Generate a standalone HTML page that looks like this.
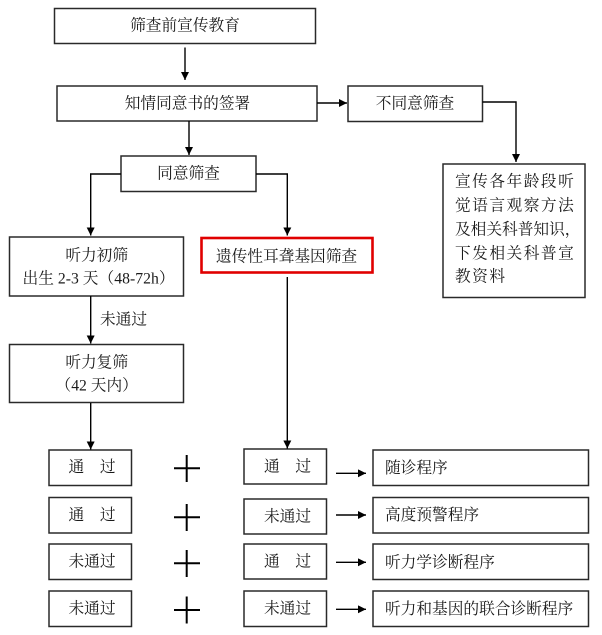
<!DOCTYPE html>
<html><head><meta charset="utf-8">
<style>
html,body{margin:0;padding:0;background:#fff;}
svg{display:block;}
text{font-family:"Liberation Serif","Noto Serif CJK SC",serif;font-size:15.7px;fill:#1a1a1a;dominant-baseline:central;}
</style></head>
<body>
<svg width="602" height="635" viewBox="0 0 602 635" xmlns="http://www.w3.org/2000/svg">
<defs>
<marker id="a" viewBox="0 0 10 10" refX="10" refY="5" markerWidth="9" markerHeight="8" markerUnits="userSpaceOnUse" orient="auto">
<path d="M0,0 L10,5 L0,10 z" fill="#000"/>
</marker>
</defs>
<g fill="none" stroke="#2a2a2a" stroke-width="1.5">
<rect x="54.5" y="8.5" width="261" height="35"/>
<rect x="57" y="86" width="260" height="35"/>
<rect x="348" y="86" width="134.5" height="35.5"/>
<rect x="121" y="156" width="135" height="35.5"/>
<rect x="443" y="164" width="142" height="133.5"/>
<rect x="9.5" y="237" width="174" height="59"/>
<rect x="9.5" y="344.5" width="174" height="58"/>
<rect x="49" y="450" width="82.5" height="35.5"/>
<rect x="49" y="497.5" width="82.5" height="35.5"/>
<rect x="49" y="544" width="82.5" height="35.5"/>
<rect x="49" y="591" width="82.5" height="35.5"/>
<rect x="244" y="449" width="82.5" height="35"/>
<rect x="244" y="499" width="82.5" height="35"/>
<rect x="244" y="544" width="82.5" height="35"/>
<rect x="244" y="591" width="82.5" height="35.5"/>
<rect x="373" y="450" width="215.5" height="35.5"/>
<rect x="373" y="497.5" width="215.5" height="35.5"/>
<rect x="373" y="544" width="215.5" height="35.5"/>
<rect x="373" y="591" width="215.5" height="35.5"/>
</g>
<rect x="201.5" y="238" width="171" height="34.5" fill="none" stroke="#e00000" stroke-width="2.6"/>

<g fill="none" stroke="#000" stroke-width="1.4">
<line x1="185" y1="47.5" x2="185" y2="80" marker-end="url(#a)"/>
<line x1="189" y1="121" x2="189" y2="155" marker-end="url(#a)"/>
<line x1="317" y1="103" x2="347" y2="103" marker-end="url(#a)"/>
<polyline points="482.5,102 516,102 516,162" marker-end="url(#a)"/>
<polyline points="121,174 90.7,174 90.7,235.5" marker-end="url(#a)"/>
<polyline points="256,174 287.3,174 287.3,235.5" marker-end="url(#a)"/>
<line x1="90.7" y1="296" x2="90.7" y2="343.5" marker-end="url(#a)"/>
<line x1="90.7" y1="403" x2="90.7" y2="449.5" marker-end="url(#a)"/>
<line x1="287.3" y1="277" x2="287.3" y2="448.5" marker-end="url(#a)"/>
<line x1="336" y1="473.3" x2="366" y2="473.3" marker-end="url(#a)"/>
<line x1="336" y1="515" x2="366" y2="515" marker-end="url(#a)"/>
<line x1="336" y1="562.3" x2="366" y2="562.3" marker-end="url(#a)"/>
<line x1="336" y1="609.3" x2="366" y2="609.3" marker-end="url(#a)"/>
</g>
<g stroke="#000" stroke-width="2">
<line x1="174" y1="468.3" x2="200" y2="468.3"/><line x1="186.7" y1="455" x2="186.7" y2="482"/>
<line x1="174" y1="517.3" x2="200" y2="517.3"/><line x1="186.7" y1="504" x2="186.7" y2="531"/>
<line x1="174" y1="563.3" x2="200" y2="563.3"/><line x1="186.7" y1="550" x2="186.7" y2="577"/>
<line x1="174" y1="610" x2="200" y2="610"/><line x1="186.7" y1="596.5" x2="186.7" y2="623.5"/>
</g>

<text x="185" y="26" text-anchor="middle">筛查前宣传教育</text>
<text x="187.5" y="104" text-anchor="middle">知情同意书的签署</text>
<text x="415" y="104" text-anchor="middle">不同意筛查</text>
<text x="188.5" y="174" text-anchor="middle">同意筛查</text>
<g style="letter-spacing:1.5px">
<text x="455" y="182">宣传各年龄段听</text>
<text x="455" y="206">觉语言观察方法</text>
<text x="455" y="230" style="letter-spacing:0px">及相关科普知识，</text>
<text x="455" y="254">下发相关科普宣</text>
<text x="455" y="277">教资料</text>
</g>
<text x="96.7" y="256" text-anchor="middle">听力初筛</text>
<text x="22.5" y="279" textLength="152" lengthAdjust="spacing">出生 2-3 天（48-72h）</text>
<text x="286.5" y="257" text-anchor="middle">遗传性耳聋基因筛查</text>
<text x="100" y="320">未通过</text>
<text x="96.7" y="363" text-anchor="middle">听力复筛</text>
<text x="96.7" y="386" text-anchor="middle">（42 天内）</text>

<text x="68.5" y="467.5">通　过</text>
<text x="68.5" y="515.5">通　过</text>
<text x="68.5" y="562">未通过</text>
<text x="68.5" y="609">未通过</text>

<text x="264" y="467">通　过</text>
<text x="264" y="517">未通过</text>
<text x="264" y="562">通　过</text>
<text x="264" y="609">未通过</text>

<text x="385" y="468.3">随诊程序</text>
<text x="385" y="515.7">高度预警程序</text>
<text x="385" y="563">听力学诊断程序</text>
<text x="385" y="609.3">听力和基因的联合诊断程序</text>
</svg>
</body></html>
